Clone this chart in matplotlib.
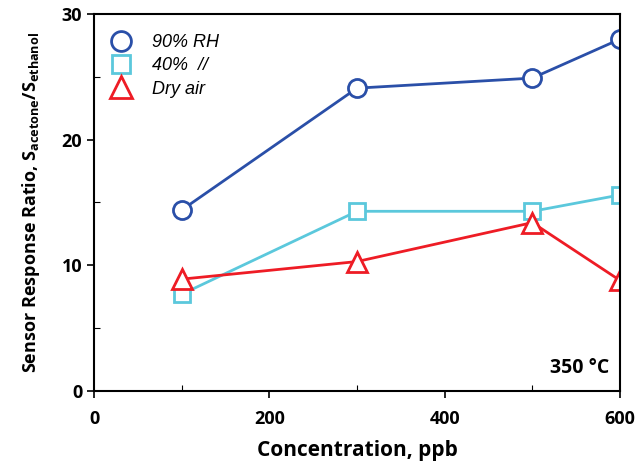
import matplotlib
matplotlib.use('Agg')
import matplotlib.pyplot as plt
from matplotlib.ticker import MultipleLocator

conc = [100, 300, 500, 600]
rh90 = [14.4, 24.1, 24.9, 28.0]
rh40 = [7.7, 14.3, 14.3, 15.6]
dry = [8.9, 10.3, 13.4, 8.8]
labels = ['90% RH', '40%  //', 'Dry air']

plt.rcParams['mathtext.fontset'] = 'custom'
plt.rcParams['mathtext.rm'] = 'Open Sans:bold'
plt.rcParams['mathtext.it'] = 'Open Sans:bold'
plt.rcParams['mathtext.bf'] = 'Open Sans:bold'

fig = plt.figure(figsize=(6.41, 4.61), dpi=100)
ax = fig.add_axes([94/641, 1 - 391/461, 526/641, 377/461])

ax.plot(conc, rh90, color='#2a4fa8', lw=2, marker='o', ms=13, mfc='white', mew=2, label=labels[0])
ax.plot(conc, rh40, color='#5bc8dc', lw=2, marker='s', ms=12, mfc='white', mew=2, label=labels[1])
ax.plot(conc, dry, color='#ee1c25', lw=2, marker='^', ms=14, mfc='white', mew=2, label=labels[2])

ax.set_xlim(0, 600)
ax.set_ylim(0, 30)
ax.xaxis.set_major_locator(MultipleLocator(200))
ax.xaxis.set_minor_locator(MultipleLocator(100))
ax.yaxis.set_major_locator(MultipleLocator(10))
ax.yaxis.set_minor_locator(MultipleLocator(5))
ax.tick_params(which='major', direction='out', length=5, width=1.2)
ax.tick_params(which='minor', direction='in', length=4, width=0.8)
ax.tick_params(axis='x', pad=9)
for sp in ax.spines.values():
    sp.set_linewidth(1.5)
for t in ax.get_xticklabels() + ax.get_yticklabels():
    t.set_fontfamily('Open Sans')
    t.set_fontweight('bold')
    t.set_fontsize(13)

ax.set_xlabel('Concentration, ppb', fontfamily='Open Sans', fontweight='bold', fontsize=15, labelpad=8)
ax.set_ylabel(r'Sensor Response Ratio, S$_{\mathrm{acetone}}$/S$_{\mathrm{ethanol}}$',
              fontfamily='Open Sans', fontweight='bold', fontsize=13, labelpad=14)

ax.text(0.98, 0.035, '350 °C', transform=ax.transAxes, ha='right', va='bottom',
        fontfamily='Open Sans', fontweight='bold', fontsize=14)

leg = ax.legend(loc='upper left', frameon=False, bbox_to_anchor=(0.0, 0.99),
                prop={'family': 'Liberation Sans', 'style': 'italic', 'size': 13},
                handlelength=1.2, labelspacing=0.35, handletextpad=1.1, markerscale=1.1)
for h in leg.legend_handles:
    h.set_linestyle('None')

fig.savefig('out.png', dpi=100)
